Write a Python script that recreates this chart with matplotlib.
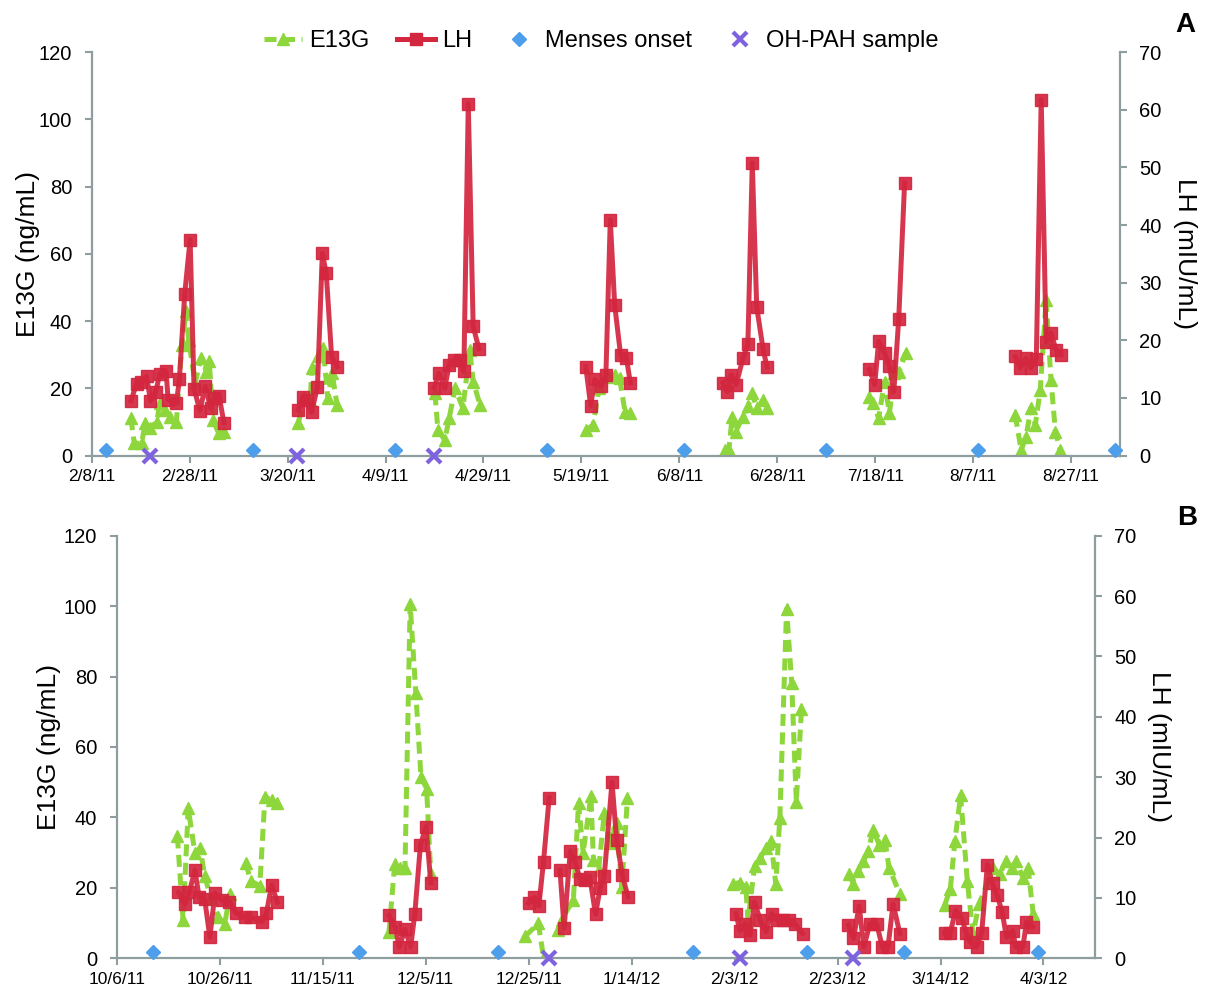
import numpy as np
import pandas as pd
import matplotlib
matplotlib.use("Agg")
import matplotlib.pyplot as plt
import matplotlib.dates as mdates
from matplotlib.lines import Line2D
from matplotlib.ticker import FuncFormatter

plt.rcParams["font.family"] = ["Liberation Sans", "DejaVu Sans"]

nan = np.nan

# ---- panel A (day offsets from 2/8/11) ----
A_START = "2011-02-08"
A_SPAN = 210

a_e13g_day = [8.0, 8.7, 10.2, 10.9, 11.9, 13.3, 13.9, 15.0, 16.0, 17.3, 18.4, 19.3, 19.8, 21.1, 22.3, 23.4, 24.0, 24.8, 25.9, 27.0, nan,
              42.2, 43.4, 44.6, 45.0, 46.3, 47.3, 48.2, 49.1, 50.1, nan,
              70.1, 70.7, 72.1, 73.0, 74.2, 75.8, 77.2, 77.9, 79.3, nan,
              101.0, 102.4, 103.6, 105.4, 106.8, 107.8, 108.9, 109.9, nan,
              129.3, 130.1, 130.8, 131.5, 133.0, 134.0, 134.9, 135.8, 137.1, 137.9, nan,
              158.8, 159.6, 160.7, 161.9, 162.9, 163.9, 164.9, 166.2, nan,
              188.6, 189.8, 190.8, 191.8, 192.7, 193.7, 194.9, 195.9, 196.8, 197.8]
a_e13g = [11.1, 3.6, 3.6, 9.6, 8.1, 10.1, 15.6, 13.6, 11.6, 10.1, 32.9, 42.9, 34.4, 21.5, 29.0, 25.0, 28.0, 10.6, 6.6, 7.1, nan,
          9.8, 17.0, 16.5, 26.0, 29.5, 32.0, 17.0, 24.5, 15.1, nan,
          18.5, 7.6, 4.6, 11.1, 20.0, 14.1, 31.4, 22.0, 15.1, nan,
          7.6, 9.1, 20.0, 23.5, 24.0, 23.0, 13.1, 12.6, nan,
          1.6, 1.6, 11.6, 7.1, 11.6, 14.6, 18.5, 14.1, 16.5, 14.1, nan,
          17.5, 15.6, 11.1, 22.0, 12.6, 24.5, 25.0, 30.5, nan,
          12.1, 1.6, 5.6, 14.1, 9.1, 19.5, 46.3, 22.5, 7.1, 1.6]

a_lh_day = [8.0, 9.2, 10.1, 11.2, 12.0, 13.1, 13.9, 15.2, 15.6, 17.3, 17.9, 19.0, 20.1, 20.9, 22.1, 23.2, 24.3, 25.0, 26.0, 27.0, nan,
            42.2, 43.1, 43.9, 44.9, 46.1, 47.1, 47.9, 49.0, 50.1, nan,
            69.9, 70.9, 72.1, 73.0, 73.9, 75.2, 76.0, 76.9, 77.9, 79.1, nan,
            100.9, 101.9, 102.7, 104.1, 105.0, 105.9, 106.8, 108.0, 109.2, 110.0, nan,
            128.9, 129.8, 130.6, 131.6, 133.0, 134.0, 134.9, 135.8, 137.1, 137.9, nan,
            158.8, 159.9, 160.7, 161.9, 162.9, 163.8, 164.8, 166.0, nan,
            188.6, 189.6, 190.8, 191.8, 192.9, 193.9, 194.9, 195.9, 196.9, 198.0]
a_lh = [9.5, 12.5, 12.7, 13.8, 9.5, 11.1, 14.2, 14.6, 9.7, 9.1, 13.2, 28.1, 37.5, 11.6, 7.8, 12.0, 8.2, 10.0, 10.4, 5.7, nan,
        7.9, 10.1, 9.7, 7.5, 11.9, 35.1, 31.6, 17.1, 15.4, nan,
        11.7, 14.3, 11.7, 15.8, 16.6, 16.6, 14.6, 61.1, 22.4, 18.5, nan,
        15.4, 8.6, 13.2, 12.0, 13.9, 40.9, 26.1, 17.5, 16.9, 12.6, nan,
        12.6, 11.1, 14.0, 12.3, 16.9, 19.3, 50.8, 25.8, 18.5, 15.4, nan,
        15.0, 12.3, 19.8, 17.8, 15.5, 11.1, 23.7, 47.3, nan,
        17.2, 15.2, 16.9, 15.2, 16.8, 61.8, 19.7, 21.3, 18.4, 17.5]

a_menses = ["2011-02-11", "2011-03-13", "2011-04-11", "2011-05-12", "2011-06-09",
            "2011-07-08", "2011-08-08", "2011-09-05"]
a_ohpah = ["2011-02-20", "2011-03-22", "2011-04-19"]

# ---- panel B (day offsets from 10/6/11) ----
B_START = "2011-10-06"
B_SPAN = 190

b_e13g_day = [11.8, 12.9, 13.9, 15.2, 16.2, 17.1, 18.3, 19.7, 21.0, 22.0, nan, 25.1, 26.0, 27.8, 28.8, 30.1, 31.2, nan,
              52.9, 54.0, 55.0, 56.0, 57.0, 58.1, 59.1, 60.2, 61.0, nan,
              79.3, 81.9, 82.9, nan, 85.7, 86.4, 88.7, 89.7, 90.6, 92.1, 92.6, 93.6, 94.7, 95.8, 97.1, 98.1, 99.2, nan,
              119.7, 121.0, 122.2, 122.6, 123.9, 125.0, 126.1, 127.1, 128.0, 128.8, 130.1, 131.1, 132.0, 133.0, nan,
              142.3, 143.1, 144.0, 145.0, 146.0, 146.9, 148.1, 149.2, 150.0, 152.1, nan,
              160.8, 161.9, 162.8, 163.9, 165.2, 166.3, 167.5, 170.2, 171.5, 172.7, 173.8, 174.7, 176.0, 177.0, 178.0]
b_e13g = [34.6, 10.8, 42.6, 29.9, 31.3, 23.4, 17.0, 11.7, 9.8, 18.3, nan, 27.1, 22.0, 20.6, 45.9, 44.9, 44.0, nan,
          7.5, 26.7, 25.7, 25.7, 100.6, 75.4, 51.5, 48.2, 23.9, nan,
          6.2, 9.9, 0.3, nan, 8.0, 10.9, 16.6, 44.0, 30.0, 46.0, 28.0, 25.0, 41.2, 32.7, 38.4, 20.1, 45.5, nan,
          21.1, 21.5, 20.1, 10.8, 26.2, 28.5, 31.3, 33.2, 21.1, 39.8, 99.2, 78.2, 44.5, 70.7, nan,
          23.9, 21.1, 24.8, 27.6, 30.4, 36.5, 32.3, 33.7, 25.7, 18.3, nan,
          15.0, 19.7, 33.4, 46.3, 22.0, 7.0, 15.4, 25.7, 23.9, 27.6, 25.7, 27.6, 22.9, 25.7, 12.6]

b_lh_day = [12.0, 13.3, 14.1, 15.2, 16.0, 17.1, 18.1, 19.1, 20.4, 21.9, 23.2, 24.9, 26.0, 28.2, 29.1, 30.1, 31.2, nan,
            52.9, 54.1, 54.9, 56.0, 57.1, 57.9, 59.0, 60.1, 61.0, nan,
            80.0, 81.1, 82.0, 82.9, 84.0, nan, 86.1, 86.9, 88.1, 89.0, 90.0, 91.0, 91.9, 93.0, 93.9, 94.7, 96.2, 97.1, 98.2, 99.3, nan,
            120.3, 121.0, 122.0, 123.0, 123.9, 125.0, 126.1, 127.2, 128.3, 129.4, 130.6, 131.7, 133.2, nan,
            142.1, 143.1, 144.2, 145.1, 146.3, 147.6, 148.7, 149.8, 150.8, 152.1, nan,
            160.8, 161.9, 162.9, 164.1, 165.0, 165.8, 167.0, 168.0, 169.1, 170.1, 171.0, 172.0, 172.8, 174.0, 174.6, 176.0, 176.7, 177.9]
b_lh = [10.9, 9.0, 10.9, 14.6, 10.2, 9.8, 3.5, 10.8, 9.6, 9.4, 7.5, 6.8, 6.9, 6.0, 7.5, 12.2, 9.3, nan,
        7.1, 5.1, 1.9, 4.8, 1.9, 7.3, 18.8, 21.8, 12.5, nan,
        9.1, 10.1, 8.7, 16.0, 26.6, nan, 14.6, 5.0, 17.8, 16.0, 13.2, 13.0, 13.4, 7.3, 11.6, 13.6, 29.2, 19.6, 13.8, 10.2, nan,
        7.4, 4.6, 5.7, 3.8, 9.3, 6.3, 4.4, 7.4, 6.3, 6.3, 6.3, 5.7, 4.1, nan,
        5.5, 3.3, 8.7, 1.9, 5.7, 5.7, 1.9, 1.9, 9.0, 4.1, nan,
        4.2, 4.2, 7.9, 6.7, 4.2, 2.7, 1.9, 4.2, 15.5, 12.4, 10.4, 7.6, 3.5, 4.6, 1.9, 1.9, 6.0, 5.2]

b_menses = ["2011-10-13", "2011-11-22", "2011-12-19", "2012-01-26", "2012-02-17",
            "2012-03-07", "2012-04-02"]
b_ohpah = ["2011-12-29", "2012-02-04", "2012-02-26"]

MENSES_LEVEL = 1   # plotted on LH axis
OHPAH_LEVEL = 0

GREEN = "#8DD63C"
RED = "#D3263F"
BLUE = "#4D9EEB"
PURPLE = "#7E62DE"
SPINE = "#8E9E9E"

LW = 3.6
DASH = (0, (2.4, 1.3))


def date_label(x, pos):
    d = mdates.num2date(x)
    return f"{d.month}/{d.day}/{d:%y}"


def draw_panel(ax, start, span, e_day, e_val, l_day, l_val, menses, ohpah):
    t0 = mdates.date2num(pd.Timestamp(start))
    ax2 = ax.twinx()

    ax.plot(t0 + np.array(e_day), e_val, color=GREEN, lw=LW, ls=DASH,
            marker="^", ms=8, mec=GREEN, mfc=GREEN, zorder=2)
    ax2.plot(t0 + np.array(l_day), l_val, color=RED, lw=LW, alpha=0.92,
             marker="s", ms=8, mec=RED, mfc=RED, zorder=3)
    m = mdates.date2num(pd.to_datetime(menses))
    ax2.plot(m, [MENSES_LEVEL] * len(m), ls="none", marker="D", ms=7.5,
             color=BLUE, zorder=4, clip_on=False)
    o = mdates.date2num(pd.to_datetime(ohpah))
    ax2.plot(o, [OHPAH_LEVEL] * len(o), ls="none", marker="x", ms=10.5, mew=3,
             color=PURPLE, zorder=5, clip_on=False)

    ax.set_xlim(t0, t0 + span)
    ax.set_xticks(t0 + np.arange(0, span, 20))
    ax.xaxis.set_major_formatter(FuncFormatter(date_label))
    ax.set_ylim(0, 120)
    ax.set_yticks(np.arange(0, 121, 20))
    ax2.set_ylim(0, 70)
    ax2.set_yticks(np.arange(0, 71, 10))

    for a in (ax, ax2):
        a.patch.set_visible(False)
        for s in a.spines.values():
            s.set_color(SPINE)
            s.set_linewidth(1.6)
        a.spines["top"].set_visible(False)
    ax.spines["right"].set_visible(False)
    ax2.spines["left"].set_visible(False)
    ax2.spines["bottom"].set_visible(False)

    ax.tick_params(axis="y", direction="out", length=5, width=1.5, color=SPINE,
                   labelsize=14.5, pad=9)
    ax.tick_params(axis="x", direction="out", length=5, width=1.5, color=SPINE,
                   labelsize=12.5, pad=5)
    ax2.tick_params(axis="y", direction="out", length=5, width=1.5, color=SPINE,
                    labelsize=14.5, pad=9)

    ax.set_ylabel("E13G (ng/mL)", fontsize=19)
    ax2.set_ylabel("LH (mIU/mL)", fontsize=19, rotation=270, va="center")
    return ax2


fig = plt.figure(figsize=(12.05, 9.92), dpi=100)

axA = fig.add_axes([0.0761, 0.5408, 0.8534, 0.4065])
axA2 = draw_panel(axA, A_START, A_SPAN, a_e13g_day, a_e13g, a_lh_day, a_lh,
                  a_menses, a_ohpah)
axA.yaxis.set_label_coords(-0.05, 0.5)
axA2.yaxis.set_label_coords(1.063, 0.5)

axB = fig.add_axes([0.0968, 0.0340, 0.8119, 0.4260])
axB2 = draw_panel(axB, B_START, B_SPAN, b_e13g_day, b_e13g, b_lh_day, b_lh,
                  b_menses, b_ohpah)
axB.yaxis.set_label_coords(-0.057, 0.5)
axB2.yaxis.set_label_coords(1.065, 0.5)

fig.text(1185 / 1205, 1 - 25 / 992, "A", fontsize=20, fontweight="bold",
         ha="center", va="center")
fig.text(1187 / 1205, 1 - 518 / 992, "B", fontsize=20, fontweight="bold",
         ha="center", va="center")

handles = [
    Line2D([], [], color=GREEN, lw=LW, ls=DASH, marker="^", ms=8),
    Line2D([], [], color=RED, lw=LW, marker="s", ms=8),
    Line2D([], [], ls="none", color=BLUE, marker="D", ms=7.5),
    Line2D([], [], ls="none", color=PURPLE, marker="x", ms=10.5, mew=3),
]
fig.legend(handles, ["E13G", "LH", "Menses onset", "OH-PAH sample"],
           loc="center", bbox_to_anchor=(601 / 1205, 1 - 41 / 992), ncol=4,
           frameon=False, fontsize=17, handlelength=1.6, handletextpad=0.3,
           columnspacing=1.2)

fig.savefig("out.png", dpi=100)
